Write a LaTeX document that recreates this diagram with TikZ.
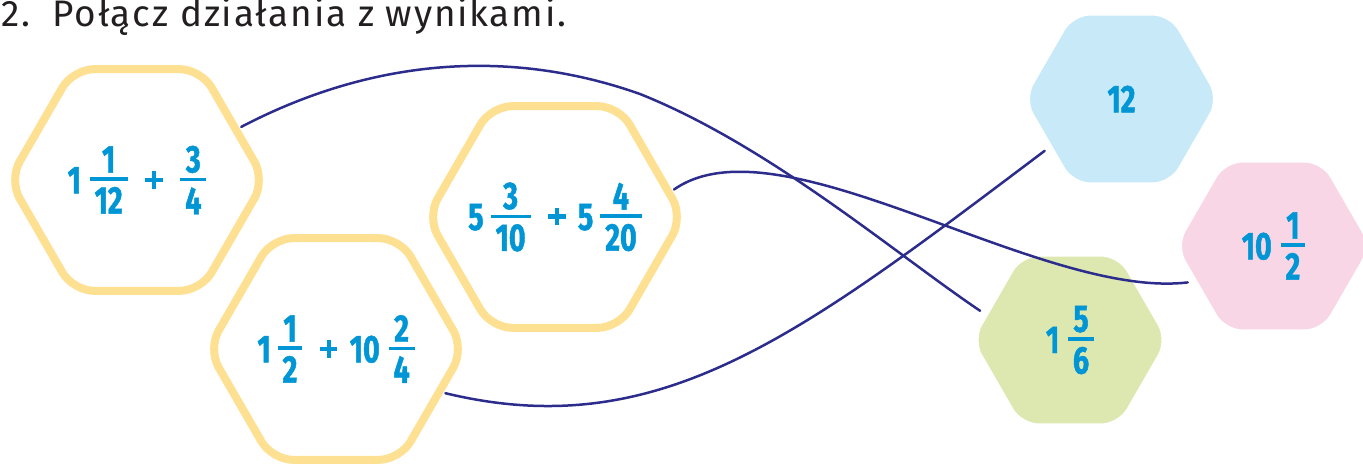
\documentclass[tikz,border=0pt]{standalone}
\usepackage{fontspec}
\setmainfont{Fira Sans}
\newfontfamily\titlefont[LetterSpace=5]{Fira Sans}
\newfontfamily\numfont[FakeStretch=0.74, BoldFeatures={FakeBold=1.2}]{Fira Sans}
\usetikzlibrary{shapes.geometric,shadows}

\definecolor{hexyellow}{RGB}{253,224,146}
\definecolor{numblue}{RGB}{0,150,214}
\definecolor{linknavy}{RGB}{44,44,140}
\definecolor{ansblue}{RGB}{200,233,248}
\definecolor{anspink}{RGB}{249,214,230}
\definecolor{ansgreen}{RGB}{221,232,176}
\definecolor{titlegray}{RGB}{35,31,32}

% fraction with a thick bar, centred on the digits
\newcommand\fr[2]{\raisebox{\dimexpr0.345em-0.5\height\relax}{\vbox{\halign{\hfil\kern2.8pt##\kern2.8pt\hfil\cr#1\cr\noalign{\kern2.8pt\hrule height 1.8pt\kern3.6pt}#2\cr}}}}
% heavy plus sign
\newcommand\pl{\makebox[10pt]{\rlap{\rule[\dimexpr0.345em-1.25pt]{10pt}{2.5pt}}\hspace{3.75pt}\rule[\dimexpr0.345em-5pt]{2.5pt}{10pt}\hspace{3.75pt}}}

\begin{document}
\begin{tikzpicture}[x=0.02cm, y=-0.02cm,
  task/.style={regular polygon, regular polygon sides=6, minimum size=5.12cm, inner sep=0pt, outer sep=0.12cm,
    draw=hexyellow, line width=0.16cm, fill=white, rounded corners=0.42cm,
    drop shadow={shadow xshift=1.2pt, shadow yshift=-1.2pt, opacity=0.18, fill=black}},
  result/.style={regular polygon, regular polygon sides=6, minimum size=4.04cm, inner sep=0pt, outer sep=0.1cm,
    draw=white, line width=0.16cm, rounded corners=0.38cm,
    drop shadow={shadow xshift=1.2pt, shadow yshift=-1.2pt, opacity=0.15, fill=black}},
  num/.style={text=numblue, font=\numfont\bfseries\fontsize{22}{26}\selectfont},
  link/.style={draw=linknavy, line width=0.05cm, line cap=round}]
\useasboundingbox (0,0) rectangle (1363,467);

\node[anchor=base west, inner sep=0pt, text=titlegray, font=\titlefont\fontsize{21}{25}\selectfont] (title) at (1,26) {2.\hspace{0.6em}Połącz działania z wynikami.};

% operations
\node[task] (t1) at (137,180) {};
\node[task] (t3) at (555,217) {};
\node[task] (t2) at (336,349) {};
\node[num] at (t1) {1\hspace{5pt}\fr{1}{12}\hspace{10pt}\pl\hspace{10pt}\fr{3}{4}};
\node[num] at (t3) {5\hspace{4pt}\fr{3}{10}\hspace{10pt}\pl\hspace{7pt}5\hspace{4pt}\fr{4}{20}};
\node[num] at (t2) {1\hspace{4pt}\fr{1}{2}\hspace{10pt}\pl\hspace{7pt}10\hspace{5pt}\fr{2}{4}};

% results
\node[result, fill=ansblue] (r12) at (1121.5,99) {};
\node[result, fill=anspink] (r10) at (1273.5,246) {};
\node[result, fill=ansgreen] (r1) at (1070,340) {};
\node[num] at (r12) {12};
\node[num] at (r10) {10\hspace{5pt}\fr{1}{2}};
\node[num] at (r1) {1\hspace{5pt}\fr{5}{6}};

% connections
\draw[link] (t1.27) .. controls (373,58) and (510,48) .. (640,94) .. controls (770,146) and (897,255) .. (r1.162);
\draw[link] (t3.13) .. controls (780,115) and (1040,300) .. (r10.203);
\draw[link] (t2.-22) .. controls (660,445) and (800,335) .. (r12.214);
\end{tikzpicture}
\end{document}
